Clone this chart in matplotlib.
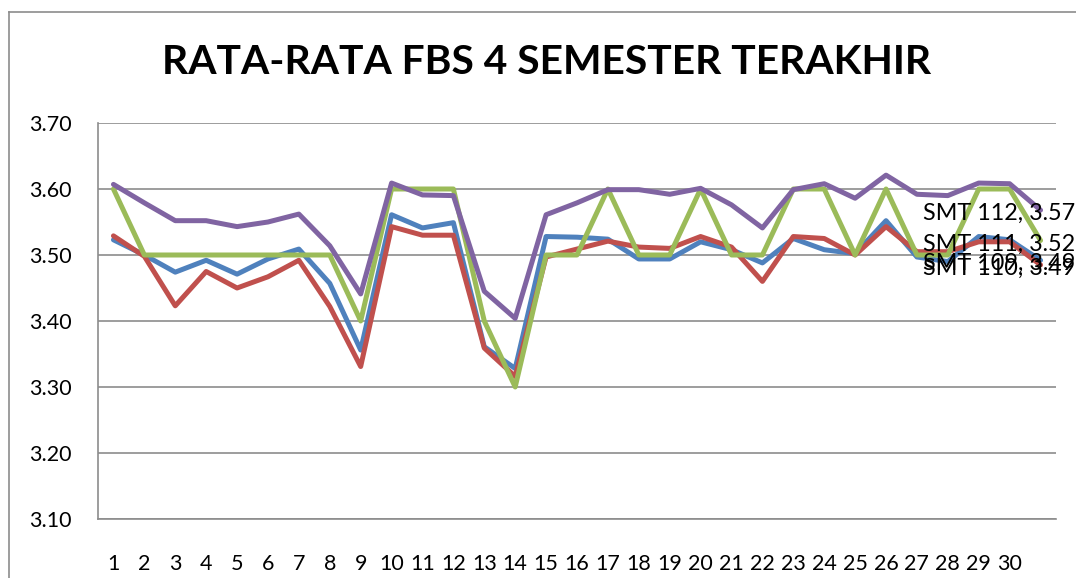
import matplotlib
matplotlib.use("Agg")
import matplotlib.pyplot as plt
from matplotlib.lines import Line2D

plt.rcParams['font.family'] = ['Lato', 'DejaVu Sans']

categories = list(range(1, 32))
tick_labels = [str(i) for i in range(1, 31)] + [""]

smt109 = [3.523, 3.500, 3.474, 3.492, 3.471, 3.494, 3.509, 3.457, 3.356, 3.561,
          3.541, 3.549, 3.361, 3.328, 3.528, 3.527, 3.524, 3.494, 3.494, 3.520,
          3.508, 3.488, 3.525, 3.508, 3.502, 3.552, 3.497, 3.490, 3.528, 3.523, 3.492]
smt110 = [3.529, 3.498, 3.423, 3.475, 3.450, 3.467, 3.492, 3.422, 3.331, 3.543,
          3.530, 3.530, 3.359, 3.316, 3.497, 3.509, 3.521, 3.512, 3.510, 3.528,
          3.512, 3.460, 3.528, 3.525, 3.500, 3.543, 3.505, 3.505, 3.520, 3.520, 3.485]
smt111 = [3.60, 3.50, 3.50, 3.50, 3.50, 3.50, 3.50, 3.50, 3.40, 3.60,
          3.60, 3.60, 3.40, 3.30, 3.50, 3.50, 3.60, 3.50, 3.50, 3.60,
          3.50, 3.50, 3.60, 3.60, 3.50, 3.60, 3.50, 3.50, 3.60, 3.60, 3.522]
smt112 = [3.607, 3.579, 3.552, 3.552, 3.543, 3.550, 3.562, 3.514, 3.441, 3.609,
          3.591, 3.590, 3.445, 3.404, 3.561, 3.579, 3.599, 3.599, 3.592, 3.601,
          3.576, 3.541, 3.599, 3.608, 3.586, 3.621, 3.592, 3.590, 3.609, 3.608, 3.568]

series_names = ["SMT 109", "SMT 110", "SMT 111", "SMT 112"]
series_values = [smt109, smt110, smt111, smt112]
colors = ["#4F81BD", "#C0504D", "#9BBB59", "#8064A2"]
label_text = ["SMT 109, 3.49", "SMT 110, 3.49", "SMT 111, 3.52", "SMT 112, 3.57"]

W, H = 1076, 578
fig = plt.figure(figsize=(W / 100, H / 100), dpi=100)
ax = fig.add_axes([98 / W, 1 - 519 / H, (1056 - 98) / W, (519 - 123) / H])

for vals, c in zip(series_values, colors):
    ax.plot(categories, vals, color=c, lw=3.6, solid_joinstyle='round',
            solid_capstyle='round', zorder=3)

ax.set_xlim(0.5, 31.5)
ax.set_ylim(3.10, 3.70)
ax.set_yticks([3.10 + 0.1 * i for i in range(7)])
ax.set_yticklabels([f"{3.10 + 0.1 * i:.2f}" for i in range(7)])
ax.set_xticks(categories)
ax.set_xticklabels(tick_labels)
ax.tick_params(axis='both', length=0, labelsize=15.5, colors='black')
ax.tick_params(axis='y', pad=19)
ax.tick_params(axis='x', pad=25)
ax.yaxis.grid(True, color='#8c8c8c', lw=1.2)
ax.set_axisbelow(True)
for s in ['top', 'right']:
    ax.spines[s].set_visible(False)
for s in ['left', 'bottom']:
    ax.spines[s].set_color('#8c8c8c')
    ax.spines[s].set_linewidth(1.2)

# data labels at last point
trans = fig.transFigure
for vals, txt in zip(series_values, label_text):
    ax.annotate(txt, xy=(923 / W, vals[-1]), xycoords=(trans, 'data'),
                xytext=(0, -2.5), textcoords='offset points',
                ha='left', va='center', fontsize=16.8, color='black',
                annotation_clip=False, zorder=5)

fig.text(547 / W, 1 - 63 / H, "RATA-RATA FBS 4 SEMESTER TERAKHIR",
         ha='center', va='center', fontsize=29.3, fontweight='bold')

# chart frame
fig.add_artist(Line2D([8.5 / W, 8.5 / W], [0, 1 - 12 / H], transform=trans,
                      color='#8c8c8c', lw=1.2))
fig.add_artist(Line2D([8.5 / W, 1], [1 - 12 / H, 1 - 12 / H], transform=trans,
                      color='#8c8c8c', lw=1.2))

fig.savefig("out.png", dpi=100)
